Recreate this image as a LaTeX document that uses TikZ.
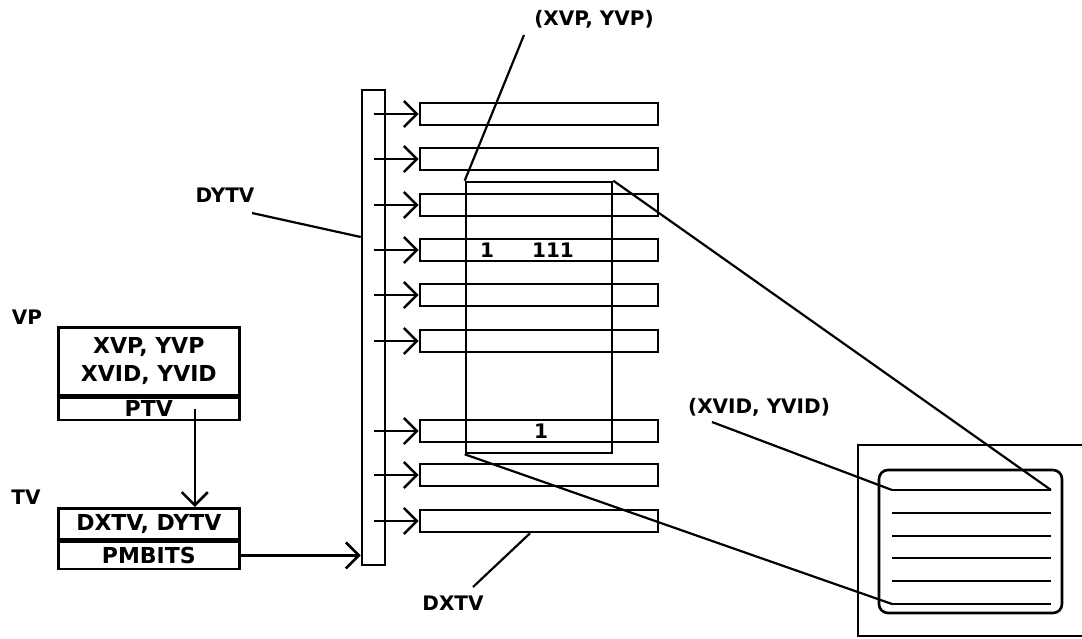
\documentclass[tikz,border=0pt]{standalone}
\usepackage{fontspec}
\setmainfont{DejaVu Sans}
\usetikzlibrary{arrows.meta}

\begin{document}
\begin{tikzpicture}[
    x=1pt, y=-1pt,  % une unité = un pixel du dessin
    line width=2.6pt,
    every node/.style={font=\fontsize{20}{28}\selectfont\bfseries, inner sep=0pt},
    % Réglages des boîtes
    champ/.style={draw, minimum width=181pt, anchor=north west, font=\fontsize{22}{28}\selectfont\bfseries},
    rangee/.style={draw, minimum width=238pt, minimum height=22pt},
    fleche/.style={-{Straight Barb[length=13pt, width=26pt]}},
    renvoi/.style={line width=2.2pt}
]
\useasboundingbox (0,0) rectangle (1082,639);

% Bloc VP
\node (lvp) at (27,317) {VP};
\node[champ, minimum height=68pt, align=center] (vphaut) at (57,326) {XVP, YVP\\XVID, YVID};
\node[champ, minimum height=22pt] (ptv) at (vphaut.south west) {PTV};

% Bloc TV
\node (ltv) at (26,497) {TV};
\node[champ, minimum height=31pt] (tvhaut) at (57,507) {DXTV, DYTV};
\node[champ, minimum height=27pt] (pmbits) at (tvhaut.south west) {PMBITS};

\draw[fleche] ([xshift=46pt]ptv.center) -- ([xshift=46pt]tvhaut.north);

% Tableau DYTV
\node[draw, minimum width=23pt, minimum height=475pt] (barre) at (373.5,327.5) {};
\draw[fleche] (pmbits.east) -- (barre.west |- pmbits.east);

% Rangées DXTV
\foreach \i/\y in {1/114, 2/159, 3/205, 4/250, 5/295, 6/341, 7/431, 8/475, 9/521} {
    \node[rangee] (r\i) at (539,\y) {};
    \draw[fleche] (barre.center |- r\i.west) -- (r\i.west);
}
\node (u1) at (487,250) {1};
\node (u2) at (553,250) {111};
\node (u3) at (541,431) {1};

% Fenêtre
\node[draw, minimum width=146pt, minimum height=271pt] (fenetre) at (539,317.5) {};

% Ecran
\node[draw, minimum width=242pt, minimum height=191pt] (ecran) at (979,540.5) {};
\node[draw, rounded corners=9pt, minimum width=183pt, minimum height=143pt] (tube) at (970.5,541.5) {};
\foreach \j/\y in {1/490, 2/513, 3/536, 4/558, 5/581, 6/604} {
    \coordinate (ga\j) at (892,\y);
    \coordinate (dr\j) at (1051,\y);
    \draw (ga\j) -- (dr\j);
}
\draw[renvoi] (fenetre.north east) -- (dr1);
\draw[renvoi] (fenetre.south west) -- (ga6);

% Étiquettes
\node (lxvp) at (594,19) {(XVP, YVP)};
\coordinate (pxvp) at (524,35);
\draw[renvoi] (pxvp) -- (fenetre.north west);

\node (lxvid) at (759,407) {(XVID, YVID)};
\coordinate (pxvid) at (712,422);
\draw[renvoi] (pxvid) -- (ga1);

\node (ldytv) at (225,195) {DYTV};
\coordinate (pdytv) at (252,213);
\draw[renvoi] (pdytv) -- (barre.west |- 0,237);

\node (ldxtv) at (453,603) {DXTV};
\coordinate (pdxtv) at (473,587);
\draw[renvoi] (pdxtv) -- ([xshift=-9pt]r9.south);
\end{tikzpicture}
\end{document}
